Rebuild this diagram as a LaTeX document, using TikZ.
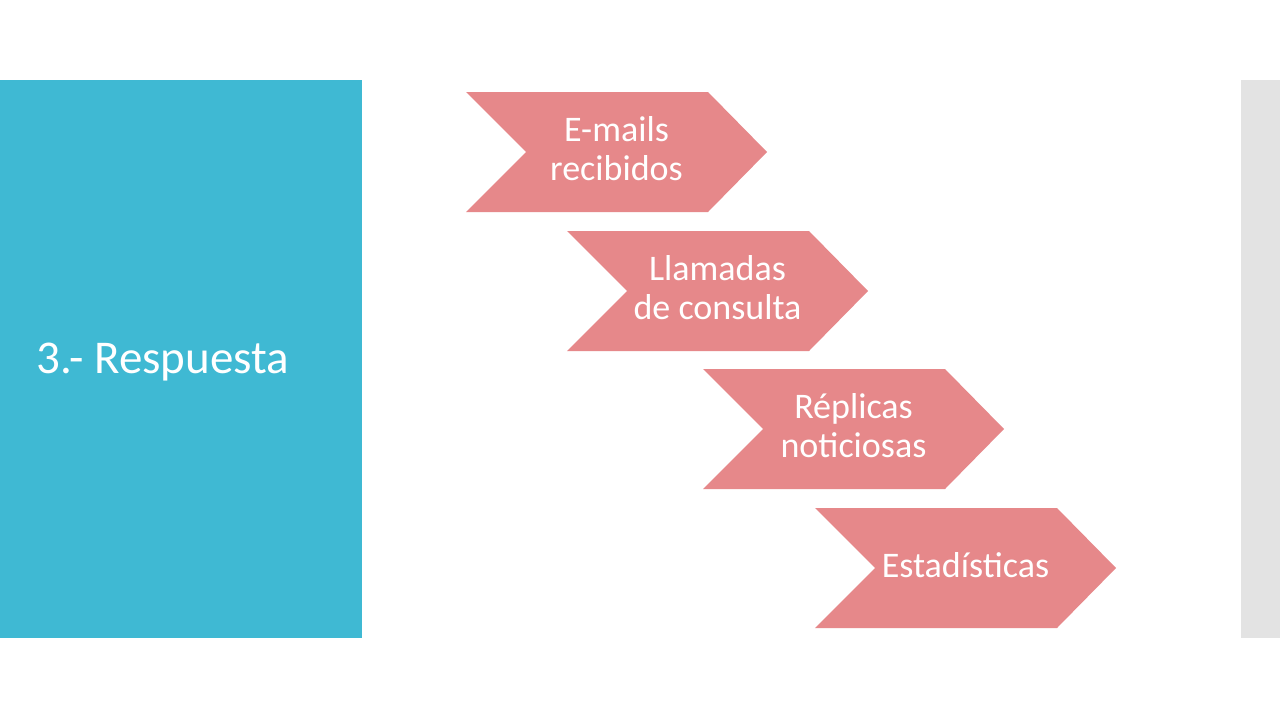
\documentclass[tikz,border=0pt]{standalone}
\usepackage{fontspec}
\setmainfont{Carlito}
\definecolor{slideblue}{HTML}{3FB9D3}
\definecolor{chevpink}{HTML}{E6888A}
\definecolor{stripgray}{HTML}{E3E3E3}
\tikzset{
  chevfill/.style={fill=chevpink, draw=none},
  chevtext/.style={text=white, align=center, font=\fontsize{36}{39}\selectfont, inner sep=0pt},
}
\newcommand{\chevronat}[4]{% #1 name, #2 left x, #3 top y, #4 text
  \fill[chevfill] (#2,#3) -- (#2+242,#3) -- (#2+301,#3+60) -- (#2+242,#3+120) -- (#2,#3+120) -- (#2+60,#3+60) -- cycle;
  \node[chevtext] (#1) at (#2+150.5,#3+57) {#4};
}
\begin{document}
\begin{tikzpicture}[x=1pt,y=-1pt]
\useasboundingbox (0,0) rectangle (1280,720);
\fill[white] (0,0) rectangle (1280,720);
\fill[slideblue] (0,80) rectangle (362,638);
\fill[stripgray] (1241,80) rectangle (1280,638);
\node[anchor=base west, text=white, font=\fontsize{47}{52}\selectfont, inner sep=0pt] (title) at (36,373) {3.- Respuesta};
\chevronat{c1}{466}{92}{E-mails\\recibidos}
\chevronat{c2}{567}{231}{Llamadas\\de consulta}
\chevronat{c3}{703}{369}{Réplicas\\noticiosas}
\chevronat{c4}{815}{508}{Estadísticas}
\end{tikzpicture}
\end{document}
